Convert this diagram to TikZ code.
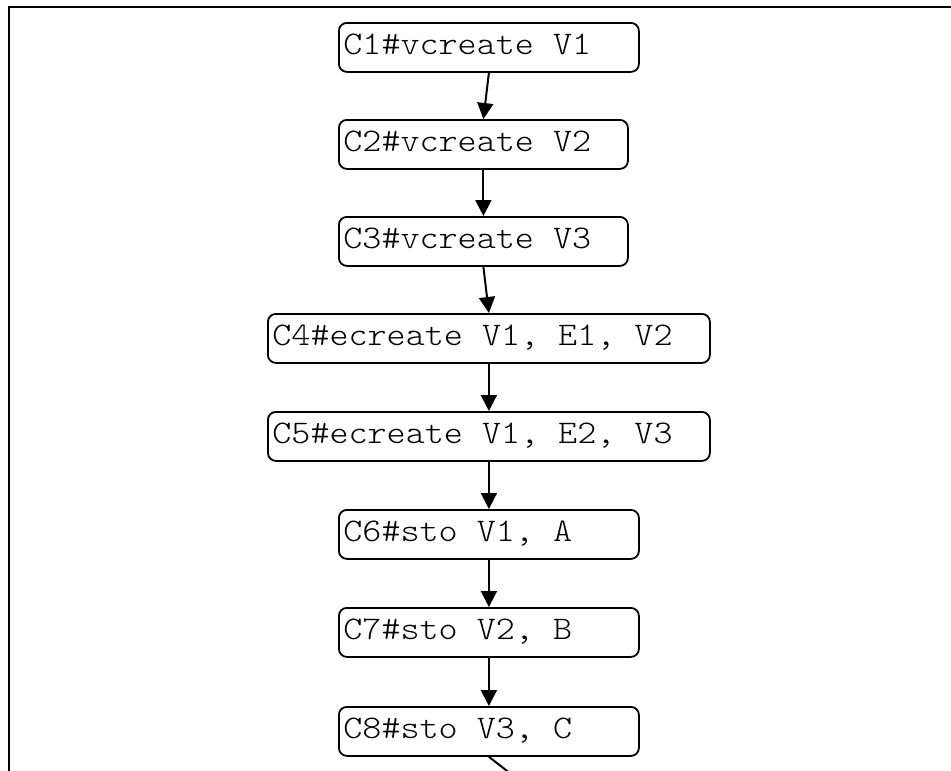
\documentclass[tikz,border=0pt]{standalone}
\usepackage{fontspec}
\newfontfamily\cmdfont{lmmonolt10-regular.otf}[FakeStretch=1.10]
\usetikzlibrary{arrows.meta}

\tikzset{
  cmd/.style={draw=black, line width=1.8pt, rounded corners=8pt,
    anchor=north west, align=left, inner xsep=4.5pt, inner ysep=0pt,
    minimum height=49pt, text height=21pt, text depth=6pt,
    font=\cmdfont\fontsize{33}{40}\selectfont, text width=#1,
    % keep the font's own full-width spaces inside ragged text
    execute at begin node={\spaceskip=0pt\xspaceskip=0pt}},
  flow/.style={line width=2pt, -{Triangle[length=16pt,width=16pt]}},
  frame/.style={line width=2pt}
}

\begin{document}
\begin{tikzpicture}[x=1pt, y=-1pt]
  \useasboundingbox (0,0) rectangle (951,771);

  % open frame: top and left edges only
  \draw[frame] (8.5,771) -- (8.5,7) -- (951,7);

  % command sequence
  \node[cmd=291pt] (c1) at (338,22)  {C1\#vcreate V1};
  \node[cmd=280pt] (c2) at (338,119) {C2\#vcreate V2};
  \node[cmd=280pt] (c3) at (338,216) {C3\#vcreate V3};
  \node[cmd=433pt] (c4) at (267,313) {C4\#ecreate V1, E1, V2};
  \node[cmd=433pt] (c5) at (267,411) {C5\#ecreate V1, E2, V3};
  \node[cmd=291pt] (c6) at (338,509) {C6\#sto V1, A};
  \node[cmd=291pt] (c7) at (338,607) {C7\#sto V2, B};
  \node[cmd=291pt] (c8) at (338,706) {C8\#sto V3, C};

  % continuation leaving the visible area
  \coordinate (next) at (538,795);

  \draw[flow] (c1.south) -- (c2.north);
  \draw[flow] (c2.south) -- (c3.north);
  \draw[flow] (c3.south) -- (c4.north);
  \draw[flow] (c4.south) -- (c5.north);
  \draw[flow] (c5.south) -- (c6.north);
  \draw[flow] (c6.south) -- (c7.north);
  \draw[flow] (c7.south) -- (c8.north);
  \draw[flow] (c8.south) -- (next);
\end{tikzpicture}
\end{document}
